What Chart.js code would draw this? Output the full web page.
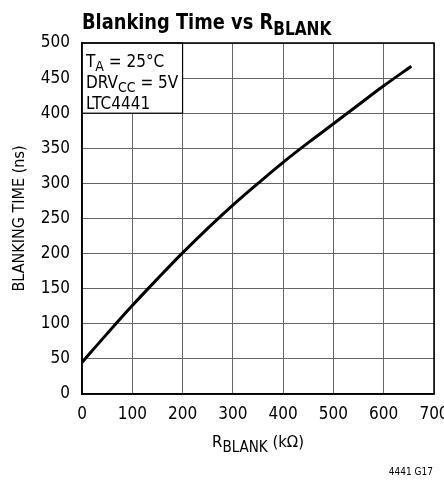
<!DOCTYPE html>
<html>
<head>
<meta charset="utf-8">
<script src="https://cdn.jsdelivr.net/npm/chart.js@4"></script>
<style>
  html, body { margin: 0; padding: 0; background: #fff; }
  #wrap { width: 444px; height: 483px; position: relative; }
</style>
</head>
<body>
<div id="wrap"><canvas id="chart"></canvas></div>
<script>
// Data
const rBlank = [0, 50, 100, 150, 200, 250, 300, 350, 400, 450, 500, 550, 600, 655];
const blankingTime = [45, 86, 126, 164, 201, 236, 269, 300, 330, 358, 385, 412, 439, 467];
const xTicks = [0, 100, 200, 300, 400, 500, 600, 700];
const yTicks = [0, 50, 100, 150, 200, 250, 300, 350, 400, 450, 500];

const FONT = '"Liberation Sans Narrow", "DejaVu Sans Condensed", Arial, sans-serif';

// draw text runs with subscripts, e.g. [['T'], ['A', true], [' = 25°C']]
function drawRuns(ctx, runs, x, y, o) {
  const size = o.size, sub = o.sub || Math.round(size * 0.8);
  const drop = o.drop || size * 0.25, sx = o.sx || 1, weight = o.weight || 'normal';
  let total = 0;
  runs.forEach(r => {
    ctx.font = `${weight} ${r[1] ? sub : size}px ${FONT}`;
    total += ctx.measureText(r[0]).width;
  });
  ctx.save();
  ctx.translate(o.align === 'center' ? x - total * sx / 2 : x, y);
  ctx.scale(sx, 1);
  ctx.textAlign = 'left';
  ctx.textBaseline = 'alphabetic';
  let cx = 0;
  runs.forEach(r => {
    ctx.font = `${weight} ${r[1] ? sub : size}px ${FONT}`;
    ctx.fillText(r[0], cx, r[1] ? drop : 0);
    cx += ctx.measureText(r[0]).width;
  });
  ctx.restore();
}

const decor = {
  id: 'decor',
  beforeDatasetsDraw(chart) {
    const { ctx, scales: { x, y } } = chart;
    // note box in the top-left cell
    const l = x.getPixelForValue(0), r = x.getPixelForValue(200);
    const t = y.getPixelForValue(500), b = y.getPixelForValue(400);
    ctx.save();
    ctx.fillStyle = '#fff';
    ctx.fillRect(l, t, r - l, b - t);
    ctx.strokeStyle = '#000';
    ctx.lineWidth = 1.2;
    ctx.strokeRect(l, t, r - l, b - t);
    ctx.fillStyle = '#000';
    drawRuns(ctx, [['T'], ['A', true], [' = 25°C']], l + 4, t + 24, { size: 17, sub: 14, drop: 4 });
    drawRuns(ctx, [['DRV'], ['CC', true], [' = 5V']], l + 4, t + 45, { size: 17, sub: 14, drop: 4 });
    drawRuns(ctx, [['LTC4441']], l + 4, t + 66, { size: 17 });
    ctx.restore();
  },
  afterDraw(chart) {
    const { ctx, chartArea: a } = chart;
    ctx.save();
    ctx.strokeStyle = '#000';
    ctx.lineWidth = 1.5;
    ctx.strokeRect(a.left, a.top, a.right - a.left, a.bottom - a.top);
    ctx.fillStyle = '#000';
    // title
    drawRuns(ctx, [['Blanking Time vs R'], ['BLANK', true]], 82, 28.5,
      { size: 22, sub: 19, drop: 6, weight: 'bold', sx: 0.9 });
    // x axis title
    drawRuns(ctx, [['R'], ['BLANK', true], [' (kΩ)']], (a.left + a.right) / 2, 447,
      { size: 16.5, sub: 15, drop: 4.5, align: 'center' });
    // y axis title
    ctx.translate(20, (a.top + a.bottom) / 2);
    ctx.rotate(-Math.PI / 2);
    ctx.font = `16px ${FONT}`;
    ctx.textAlign = 'center';
    ctx.textBaseline = 'middle';
    ctx.fillText('BLANKING TIME (ns)', 0, 0);
    ctx.restore();
    // figure code
    ctx.save();
    ctx.font = `10px ${FONT}`;
    ctx.fillStyle = '#000';
    ctx.textAlign = 'right';
    ctx.textBaseline = 'middle';
    ctx.fillText('4441 G17', 433, 472);
    ctx.restore();
  }
};

new Chart(document.getElementById('chart'), {
  type: 'line',
  data: {
    datasets: [{
      data: rBlank.map((v, i) => ({ x: v, y: blankingTime[i] })),
      borderColor: '#000',
      borderWidth: 3,
      pointRadius: 0,
      tension: 0.4,
      fill: false
    }]
  },
  options: {
    responsive: true,
    maintainAspectRatio: false,
    animation: false,
    events: [],
    layout: { padding: { top: 43, right: 10, left: 0, bottom: 0 } },
    plugins: { legend: { display: false }, tooltip: { enabled: false } },
    scales: {
      x: {
        type: 'linear',
        min: 0,
        max: 700,
        afterBuildTicks: s => { s.ticks = xTicks.map(v => ({ value: v })); },
        afterFit: s => { s.height = 89; s.paddingLeft = 0; s.paddingRight = 0; },
        grid: { color: '#666', lineWidth: 1, drawTicks: false },
        border: { color: '#000', width: 1.5 },
        ticks: { color: '#000', padding: 10, maxRotation: 0, font: { family: FONT, size: 17 } }
      },
      y: {
        min: 0,
        max: 500,
        afterBuildTicks: s => { s.ticks = yTicks.map(v => ({ value: v })); },
        afterFit: s => { s.width = 82; s.paddingTop = 0; s.paddingBottom = 0; },
        grid: { color: '#666', lineWidth: 1, drawTicks: false },
        border: { color: '#000', width: 1.5 },
        ticks: { color: '#000', padding: 12, font: { family: FONT, size: 17 } }
      }
    }
  },
  plugins: [decor]
});
</script>
</body>
</html>
